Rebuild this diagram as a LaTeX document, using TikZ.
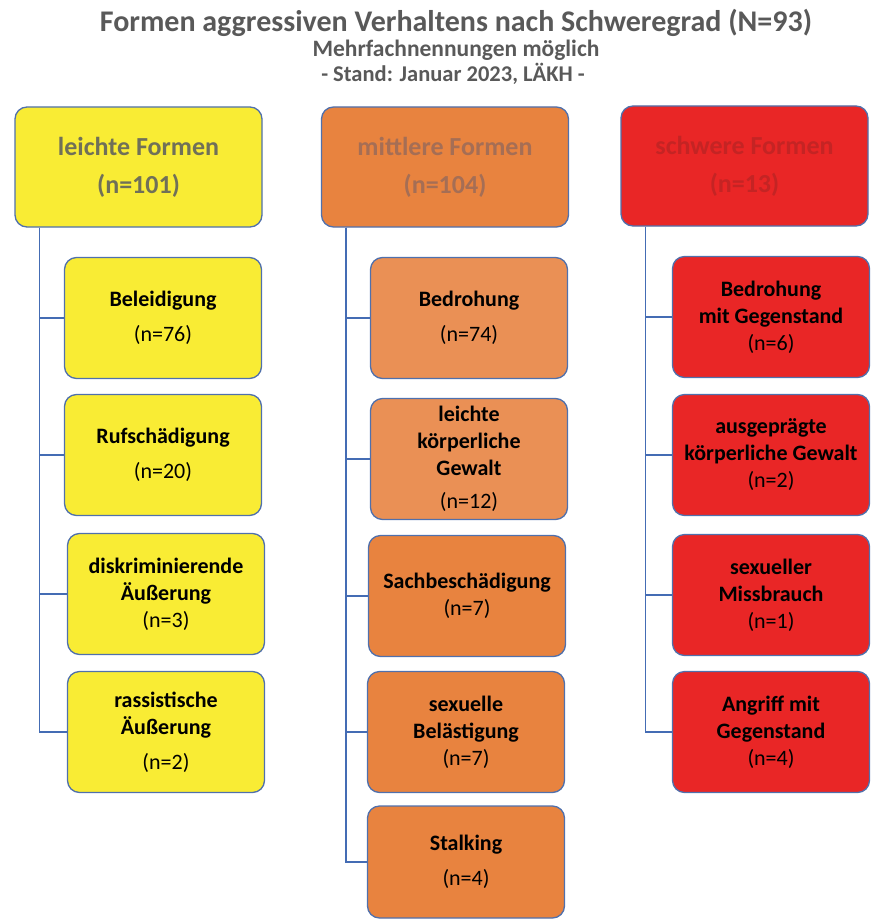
\documentclass[tikz,border=0pt]{standalone}
\usepackage{fontspec}
\setmainfont{Carlito}
\definecolor{gelb}{RGB}{249,236,52}
\definecolor{orangeA}{RGB}{232,131,63}
\definecolor{orangeB}{RGB}{234,144,85}
\definecolor{rot}{RGB}{233,38,38}
\definecolor{rahmen}{RGB}{80,112,172}
\definecolor{linie}{RGB}{68,108,180}
\definecolor{titelgrau}{RGB}{89,89,89}
\tikzset{
  topbox/.style={draw=rahmen, line width=1.3pt, rounded corners=12pt, minimum width=247pt, minimum height=120pt, align=center, font=\fontsize{26}{38}\selectfont\bfseries},
  subbox/.style={draw=rahmen, line width=1.3pt, rounded corners=12pt, minimum width=197pt, minimum height=121pt, align=center, font=\fontsize{22}{27}\selectfont},
  link/.style={draw=linie, line width=1.3pt}
}
\begin{document}
\begin{tikzpicture}[x=1pt,y=-1pt]
    \useasboundingbox (0,0) rectangle (873,923);
    % Titel
    \node[text=titelgrau, font=\fontsize{30}{34}\selectfont\bfseries] (ttl) at (456,23) {Formen aggressiven Verhaltens nach Schweregrad (N=93)};
    \node[text=titelgrau, font=\fontsize{23.5}{26}\selectfont\bfseries] (sub) at (456,50) {Mehrfachnennungen möglich};
    \node[text=titelgrau, font=\fontsize{22.5}{25}\selectfont\bfseries] (stand) at (453,74) {- Stand: Januar 2023, LÄKH -};

    % Schweregrade
    \node[topbox, fill=gelb, text={rgb,255:red,112;green,112;blue,88}] (lf) at (138.5,167) {leichte Formen\\(n=101)};
    \node[topbox, fill=orangeA, text={rgb,255:red,165;green,110;blue,85}] (mf) at (445,167) {mittlere Formen\\(n=104)};
    \node[topbox, fill=rot, text={rgb,255:red,196;green,36;blue,36}] (sf) at (744.5,166) {schwere Formen\\(n=13)};

    %% leichte
    \node[subbox, fill=gelb] (l1) at (163,318) {\textbf{Beleidigung}\\[8pt](n=76)};
    \node[subbox, fill=gelb] (l2) at (163,455) {\textbf{Rufschädigung}\\[8pt](n=20)};
    \node[subbox, fill=gelb] (l3) at (166,594) {\textbf{diskriminierende}\\\textbf{Äußerung}\\(n=3)};
    \node[subbox, fill=gelb] (l4) at (166,732) {\textbf{rassistische}\\\textbf{Äußerung}\\[8pt](n=2)};

    %% mittlere
    \node[subbox, fill=orangeB] (m1) at (469,318) {\textbf{Bedrohung}\\[8pt](n=74)};
    \node[subbox, fill=orangeB] (m2) at (469,459) {\textbf{leichte}\\\textbf{körperliche}\\\textbf{Gewalt}\\[6pt](n=12)};
    \node[subbox, fill=orangeA] (m3) at (467,596) {\textbf{Sachbeschädigung}\\(n=7)};
    \node[subbox, fill=orangeA] (m4) at (466,732) {\textbf{sexuelle}\\\textbf{Belästigung}\\(n=7)};
    \node[subbox, fill=orangeA, minimum height=112pt] (m5) at (466,862) {\textbf{Stalking}\\[8pt](n=4)};

    %% schwere
    \node[subbox, fill=rot] (s1) at (771,317) {\textbf{Bedrohung}\\\textbf{mit Gegenstand}\\(n=6)};
    \node[subbox, fill=rot] (s2) at (771,455) {\textbf{ausgeprägte}\\\textbf{körperliche Gewalt}\\(n=2)};
    \node[subbox, fill=rot] (s3) at (771,595) {\textbf{sexueller}\\\textbf{Missbrauch}\\(n=1)};
    \node[subbox, fill=rot] (s4) at (771,732) {\textbf{Angriff mit}\\\textbf{Gegenstand}\\(n=4)};

    % Verbindungen
    \coordinate (lt) at ([xshift=25pt]lf.south west);
    \coordinate (mt) at ([xshift=25pt]mf.south west);
    \coordinate (st) at ([xshift=25pt]sf.south west);
    \foreach \k in {l1,l2,l3,l4}{
    \draw[link] (lt) |- (\k.west);
    }
    \foreach \k in {m1,m2,m3,m4,m5}{
    \draw[link] (mt) |- (\k.west);
    }
    \foreach \k in {s1,s2,s3,s4}{
    \draw[link] (st) |- (\k.west);
    }
\end{tikzpicture}
\end{document}
